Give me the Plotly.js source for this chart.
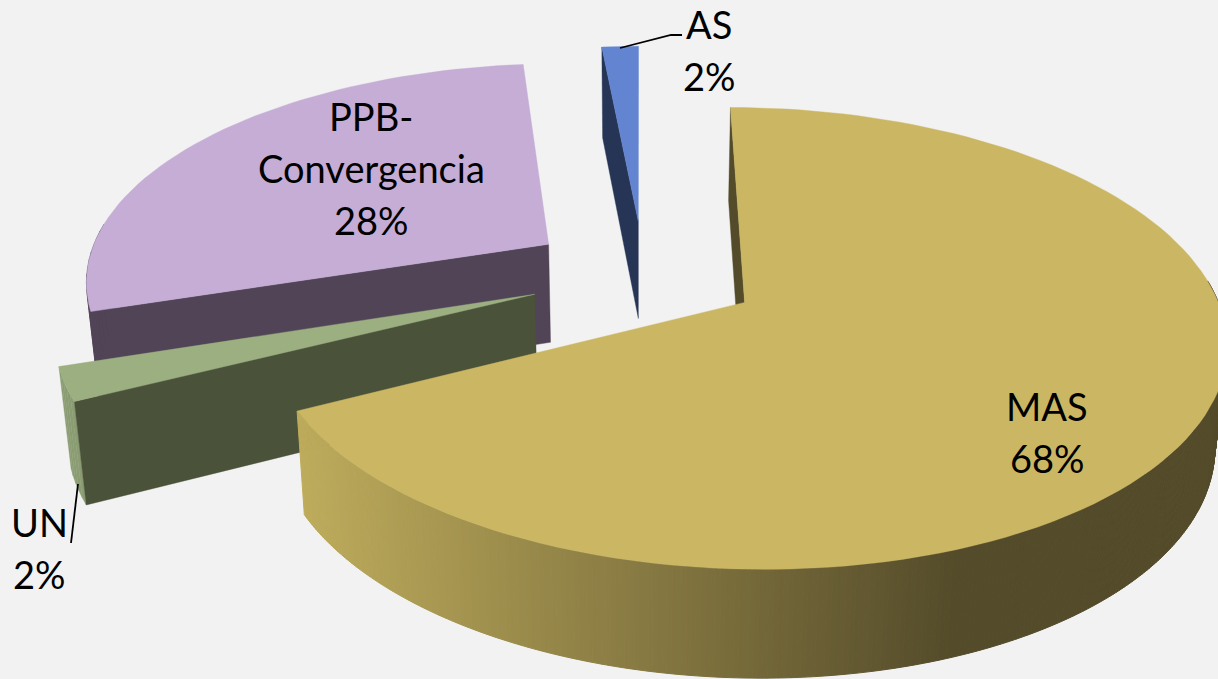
<!DOCTYPE html>
<html>
<head>
<meta charset="utf-8">
<script src="https://cdn.plot.ly/plotly-3.0.1.min.js"></script>
<style>html,body{margin:0;padding:0;background:#f2f2f2}#chart{width:1218px;height:679px}</style>
</head>
<body>
<div id="chart"></div>
<script>
// Data, clockwise from twelve o'clock (labels round them)
const categories = ['MAS', 'UN', 'PPB-Convergencia', 'AS'];
const shares = [67.6, 2.4, 28.5, 1.5];
const labelLines = [['MAS'], ['UN'], ['PPB-', 'Convergencia'], ['AS']];
const labelShares = [68, 2, 28, 2];

// Styles
const topColors = ['#CBB763', '#9CAF80', '#C5ADD6', '#6384D0'];
const wallColors = ['#544B2A', '#8A9C72', '#524457', '#263555'];
const faceColors = ['#544B2A', '#4A523A', '#524457', '#263555'];
const gradientFrom = [190, 172, 92], gradientTo = [84, 75, 42];
const paintOrder = [3, 2, 1, 0];

// Projection of the tilted pie
const xc = 640, yc = 303, A = 474, B = 225.5, persp = 0.156, H = 100, shrink = 0.979;
const explode = 0.25, centre = [0.008, -0.134];

function project(U, V, low) {
  const w = 1 / (1 - persp * V);
  const X = xc + A * U * w, Y = yc + B * V * w;
  return low ? [xc + (X - xc) * shrink, Y + H * Math.sqrt(w)] : [X, Y];
}
function poly(pts, color, lw) {
  return {type: 'scatter', mode: 'lines', x: pts.map(p => p[0]), y: pts.map(p => p[1]), fill: 'toself',
    fillcolor: color, line: {color: color, width: lw === undefined ? 0.4 : lw}, hoverinfo: 'skip', showlegend: false};
}
function gradient(X) {
  const t = Math.max(0, Math.min(1, (X - 296) / (955 - 296)));
  return 'rgb(' + gradientFrom.map((c, i) => Math.round(c + (gradientTo[i] - c) * t)).join(',') + ')';
}

const total = shares.reduce((a, b) => a + b, 0);
let start = 0;
const slices = shares.map(s => {
  const a0 = start, a1 = start + s / total * 360;
  start = a1;
  return [a0, a1];
});

const traces = [];
paintOrder.forEach(i => {
  const [a0, a1] = slices[i];
  const mid = (a0 + a1) / 2 * Math.PI / 180;
  const cu = centre[0] + explode * Math.sin(mid), cv = centre[1] - explode * Math.cos(mid);
  const rim = a => {
    const r = a * Math.PI / 180;
    return [cu + Math.sin(r), cv - Math.cos(r)];
  };
  const P = (uv, low) => project(uv[0], uv[1], low);
  const apex = [cu, cv];
  const fan = (from, to, step) => {
    const n = Math.max(2, Math.ceil((to - from) / step)), out = [];
    for (let k = 0; k <= n; k++) out.push(from + (to - from) * k / n);
    return out;
  };
  const angles = fan(a0, a1, 2);
  // Only the radial face at the start of a slice can be seen
  const face = a => poly([P(apex), P(rim(a)), P(rim(a), true), P(apex, true), P(apex)], faceColors[i]);
  if (i !== 1) traces.push(face(a0));
  // Outer wall, front-facing part only
  const wallAngles = fan(a0, a1, i === 0 ? 0.5 : 2).filter(a => Math.cos(a * Math.PI / 180) < 0.1);
  for (let k = 0; k + 1 < wallAngles.length; k++) {
    const p = rim(wallAngles[k]), q = rim(wallAngles[k + 1]);
    const quad = [P(p), P(q), P(q, true), P(p, true), P(p)];
    if (i === 0) traces.push(poly(quad, gradient((quad[0][0] + quad[1][0]) / 2), 1));
    else traces.push(poly(quad, wallColors[i]));
  }
  if (i === 1) traces.push(face(a0));
  // Top
  traces.push(poly([P(apex)].concat(angles.map(a => P(rim(a)))).concat([P(apex)]), topColors[i]));
});

// Leader lines
const leaderAS = {x: [620, 671, 682], y: [48, 35, 35]};
const leaderUN = {x: [78, 71], y: [484, 543]};
[leaderAS, leaderUN].forEach(l => traces.push({type: 'scatter', mode: 'lines', x: l.x, y: l.y,
  line: {color: '#000', width: 1.8}, hoverinfo: 'skip', showlegend: false}));

// Labels
const labelX = [1047, 39, 371, 709];
const labelY = [[406, 458], [522, 574], [116, 168, 220], [24, 76]];
const annotations = [];
categories.forEach((c, i) => {
  const lines = labelLines[i].concat([labelShares[i] + '%']);
  lines.forEach((t, j) => annotations.push({x: labelX[i], y: labelY[i][j], xref: 'x', yref: 'y', text: t,
    showarrow: false, xanchor: 'center', yanchor: 'middle', font: {family: 'Lato, Carlito, sans-serif', size: 38, color: '#000'}}));
});

Plotly.newPlot('chart', traces, {
  width: 1218, height: 679,
  margin: {l: 0, r: 0, t: 0, b: 0},
  paper_bgcolor: '#f2f2f2', plot_bgcolor: '#f2f2f2',
  xaxis: {range: [0, 1218], visible: false, fixedrange: true},
  yaxis: {range: [679, 0], visible: false, fixedrange: true},
  annotations: annotations,
  showlegend: false
}, {displayModeBar: false, staticPlot: true});
</script>
</body>
</html>
